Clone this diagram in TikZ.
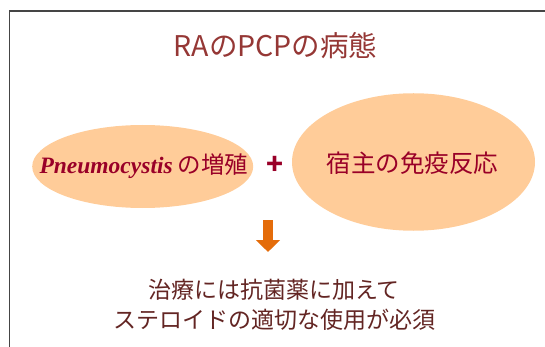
\documentclass[tikz,border=0pt]{standalone}
\usepackage{fontspec}
\setmainfont{Noto Sans CJK JP}
\newfontfamily\latinserif{Liberation Serif}
\usetikzlibrary{arrows.meta,shapes.geometric}
\definecolor{titlered}{HTML}{953735}
\definecolor{ellred}{HTML}{990028}
\definecolor{bottombrown}{HTML}{632523}
\definecolor{peach}{HTML}{FFCC99}
\definecolor{arroworange}{HTML}{E46C0A}
\definecolor{framegray}{HTML}{454545}
\begin{document}
\begin{tikzpicture}[x=1pt,y=-1pt,
  blob/.style={ellipse,fill=peach,draw=none,inner sep=0pt},
  blobtext/.style={text=ellred,inner sep=0pt},
  bigarrow/.style={arroworange,line width=10.5pt,-{Triangle[width=23.5pt,length=12pt]}}]
\useasboundingbox (0,0) rectangle (545,347);
\draw[framegray,line width=1.5pt] (9.5,360) -- (9.5,11) -- (560,11);
\node[text=titlered,font=\fontsize{28.5}{32}\selectfont] (title) at (275.5,46) {RAのPCPの病態};
\node[blob,minimum width=221pt,minimum height=83pt] (e1) at (142.7,166.5) {};
\node[blob,minimum width=243pt,minimum height=137.5pt] (e2) at (413.5,162) {};
\node[blobtext,font=\fontsize{23.5}{28}\selectfont] (t1) at (144,166) {{\latinserif\itshape\bfseries Pneumocystis} の増殖};
\node[blobtext,font=\fontsize{28}{32}\selectfont\bfseries] (plus) at (274.6,165) {+};
\node[blobtext,font=\fontsize{24.5}{28}\selectfont] (t2) at (412.7,163) {宿主の免疫反応};
\coordinate (as) at (268,220);
\coordinate (ae) at (268,252);
\draw[bigarrow] (as) -- (ae);
\node[text=bottombrown,font=\fontsize{23}{30.5}\selectfont,align=center] (b) at (274,305) {治療には抗菌薬に加えて\\ステロイドの適切な使用が必須};
\end{tikzpicture}
\end{document}
